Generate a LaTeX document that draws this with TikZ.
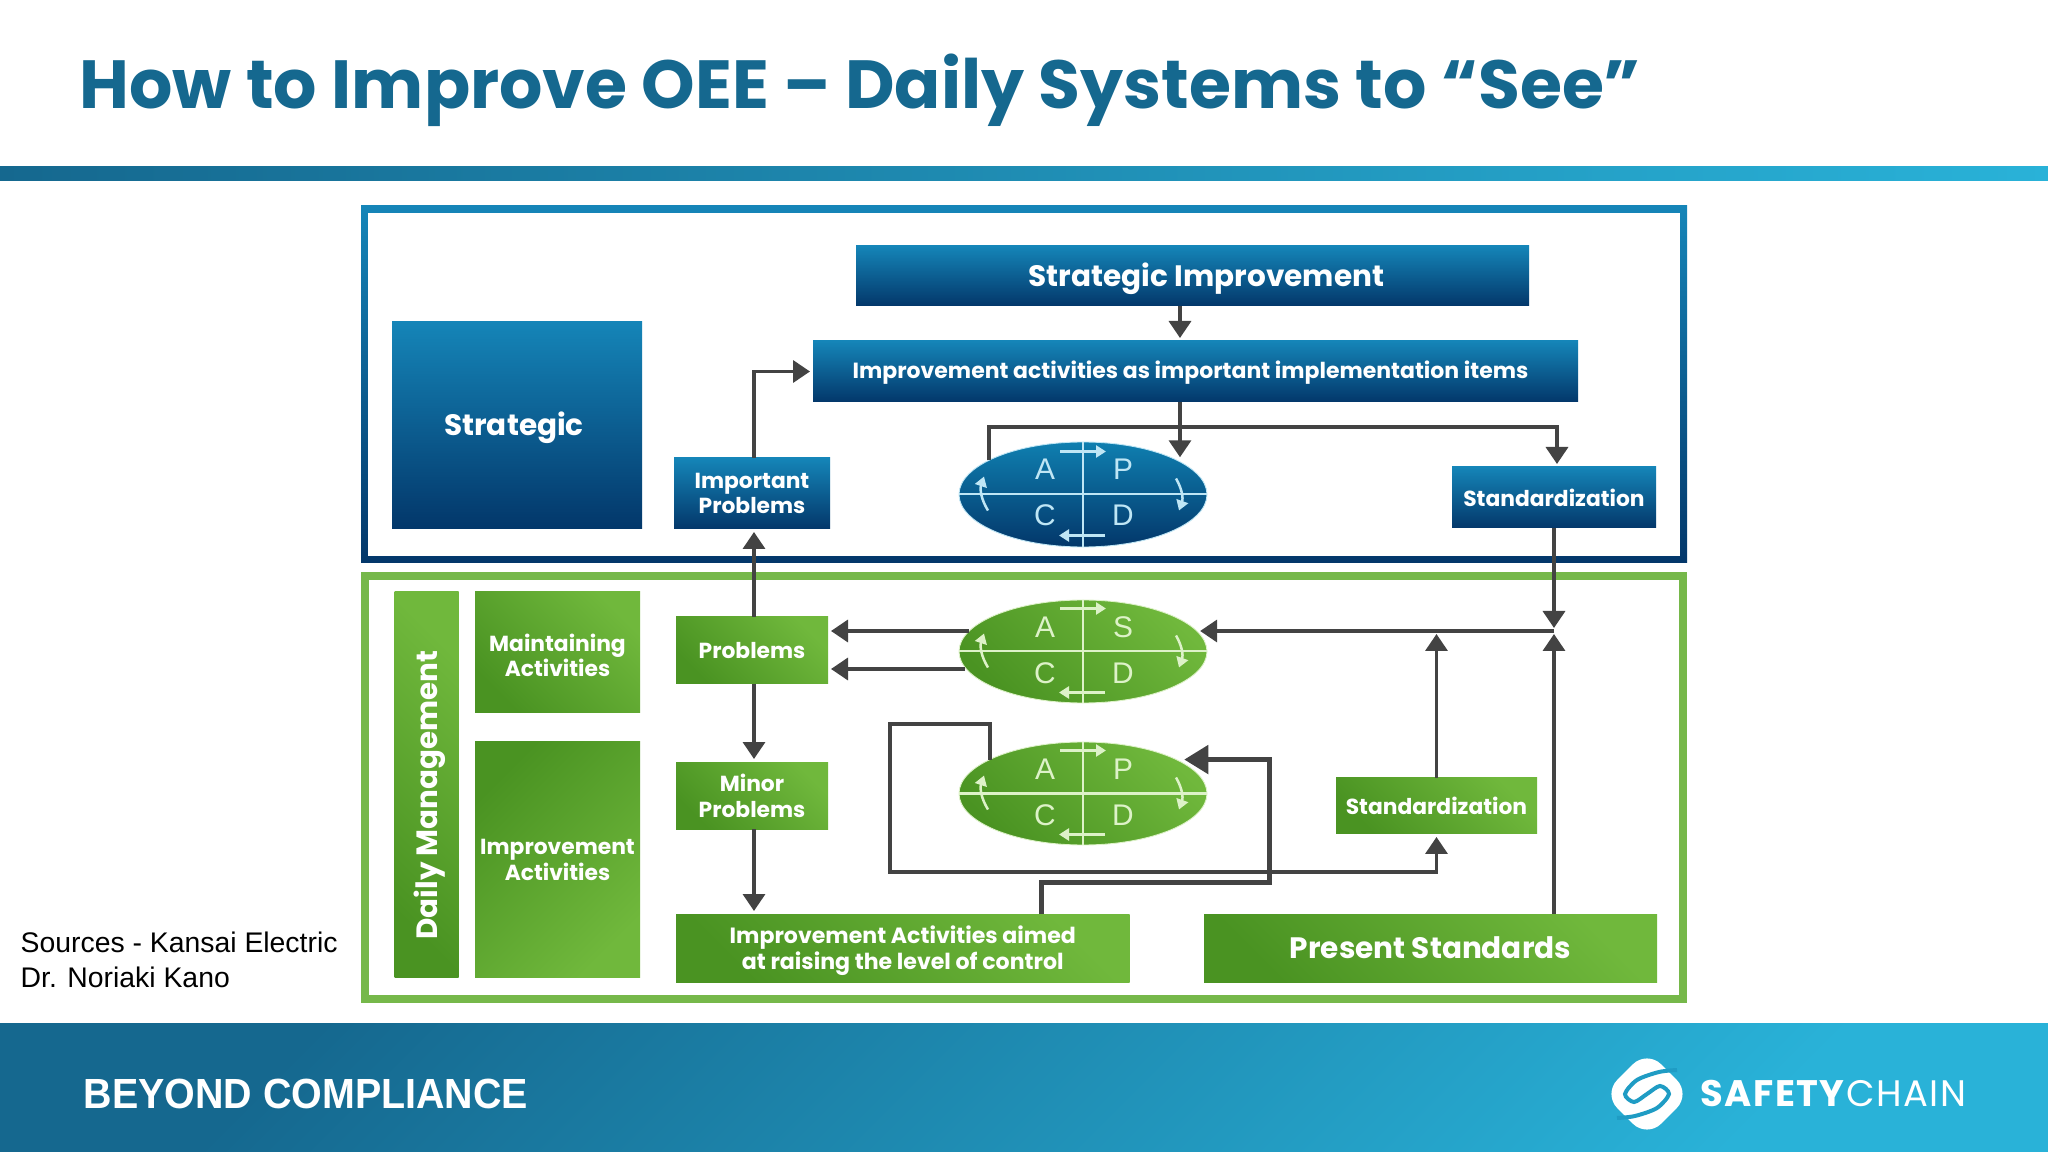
\documentclass[tikz,border=0pt]{standalone}
\usepackage{fontspec}
\setmainfont{Poppins}
\newfontfamily\arialfont{Liberation Sans}
\newfontfamily\mottofont{Liberation Sans}[FakeStretch=0.934]
\newfontfamily\brandfont{Poppins}[LetterSpace=4]
\usepackage{tikz}
\usetikzlibrary{shapes.geometric, arrows.meta}
\definecolor{titleblue}{HTML}{15688F}
\definecolor{wirecol}{HTML}{434343}
\definecolor{skyend}{HTML}{29B2D8}
\definecolor{logogap}{HTML}{1F9CC4}
\definecolor{blueA}{HTML}{1585B8}
\definecolor{blueB}{HTML}{03376A}
\definecolor{blueC}{HTML}{0F7FB0}
\definecolor{blueL}{HTML}{BFE6F5}
\definecolor{greenA}{HTML}{4A9322}
\definecolor{greenB}{HTML}{70B83C}
\definecolor{greenF}{HTML}{76B84A}
\definecolor{greenL}{HTML}{DDF2C8}
\newcommand{\sink}[2]{\raisebox{-#1}[\height][\depth]{#2}}
\newcommand{\twolines}[2]{\begin{tabular}{@{}c@{}}#1\\#2\end{tabular}}
\tikzstyle{bluebox} = [rectangle, inner sep=0pt, outer sep=0pt, top color=blueA, bottom color=blueB, text=white, align=center, font=\bfseries]
\tikzstyle{greenbox} = [rectangle, inner sep=0pt, outer sep=0pt, left color=greenA, right color=greenB, shading angle=135, text=white, align=center, font=\bfseries]
\tikzstyle{greenfall} = [greenbox, shading angle=45]
\tikzstyle{blueoval} = [ellipse, inner sep=0pt, outer sep=0pt, minimum width=2.48cm, minimum height=1.05cm, top color=blueC, bottom color=blueB, draw=blueL, line width=0.25pt]
\tikzstyle{greenoval} = [ellipse, inner sep=0pt, outer sep=0pt, minimum width=2.48cm, minimum height=1.03cm, left color=greenA, right color=greenB, shading angle=135, draw=greenL, line width=0.25pt]
\tikzstyle{blueletter} = [inner sep=0pt, text=blueL, font=\arialfont\fontsize{8.5}{8.5}\selectfont]
\tikzstyle{greenletter} = [inner sep=0pt, text=greenL, font=\arialfont\fontsize{8.5}{8.5}\selectfont]
\tikzstyle{wire} = [wirecol, line width=0.035cm, -{Triangle[length=0.17cm,width=0.22cm]}, shorten >=0.03cm]
\tikzstyle{heavywire} = [wirecol, line width=0.05cm, -{Triangle[length=0.24cm,width=0.28cm]}, shorten >=0.08cm]
\tikzstyle{bluecross} = [blueL, line width=0.02cm]
\tikzstyle{greencross} = [greenL, line width=0.02cm]
\tikzstyle{blueturn} = [blueL, line width=0.025cm, -{Triangle[length=0.1cm,width=0.12cm]}]
\tikzstyle{greenturn} = [greenL, line width=0.025cm, -{Triangle[length=0.1cm,width=0.12cm]}]
\begin{document}
\begin{tikzpicture}
	\useasboundingbox (0,0) rectangle (20.48,-11.52);

	\node (title) at (0.79,-1.09) [anchor=base west, inner sep=0pt, text=titleblue, font=\bfseries\fontsize{19.38}{19.4}\selectfont] {How to Improve OEE -- Daily Systems to “See”};
	\node (band) at (10.24,-1.74) [minimum width=20.48cm, minimum height=0.14cm, inner sep=0pt, left color=titleblue, right color=skyend] {};
	\node (footer) at (10.24,-10.875) [minimum width=20.48cm, minimum height=1.29cm, inner sep=0pt, top color=titleblue, bottom color=skyend, shading angle=45] {};
	\node (motto) at (0.83,-11.08) [anchor=base west, inner sep=0pt, text=white, font=\mottofont\bfseries\fontsize{12}{12}\selectfont] {BEYOND COMPLIANCE};
	\node (logomark) at (16.47,-10.94) [rectangle, rotate=45, minimum size=0.62cm, inner sep=0pt, fill=white, rounded corners=0.2cm] {};
	\draw [logogap, line width=0.04cm] plot [smooth] coordinates {(16.77,-10.70) (16.59,-10.72) (16.37,-10.80) (16.25,-10.94) (16.34,-11.02) (16.47,-10.94) (16.60,-10.86) (16.69,-10.94) (16.57,-11.08) (16.35,-11.16) (16.17,-11.18)};
	\node (brand) at (17.00,-11.06) [anchor=base west, inner sep=0pt, text=white, font=\brandfont\fontsize{10.5}{10.5}\selectfont] {\textbf{SAFETY}CHAIN};
	\node (sources) at (0.2,-9.6) [anchor=west, inner sep=0pt, align=left, font=\arialfont\fontsize{8.07}{10}\selectfont] {Sources - Kansai Electric\\Dr. Noriaki Kano};

	\node (stratframe) at (10.24,-3.845) [minimum width=13.26cm, minimum height=3.57cm, top color=blueA, bottom color=blueB] {};
	\node (stratinner) at (10.24,-3.845) [minimum width=13.12cm, minimum height=3.43cm, fill=white] {};
	\node (dailyframe) at (10.24,-7.875) [minimum width=13.18cm, minimum height=4.23cm, draw=greenF, line width=0.08cm, fill=white] {};

	\node (strategic) at (5.17,-4.25) [bluebox, minimum width=2.5cm, minimum height=2.07cm, font=\bfseries\fontsize{8.4}{9}\selectfont] {\sink{0.03cm}{Strategic}\hspace*{0.06cm}};
	\node (stratimp) at (11.925,-2.76) [bluebox, minimum width=6.73cm, minimum height=0.6cm, font=\bfseries\fontsize{8.4}{9}\selectfont] {\hspace*{0.28cm}\sink{0.03cm}{Strategic Improvement}};
	\node (improve) at (11.955,-3.715) [bluebox, minimum width=7.65cm, minimum height=0.61cm, font=\bfseries\fontsize{6.25}{7}\selectfont] {\sink{0.01cm}{Improvement activities as important implementation items}\hspace*{0.1cm}};
	\node (impprob) at (7.52,-4.935) [bluebox, minimum width=1.56cm, minimum height=0.71cm, font=\bfseries\fontsize{6.2}{7.2}\selectfont] {Important\\Problems};
	\node (stdblue) at (15.54,-4.975) [bluebox, minimum width=2.04cm, minimum height=0.61cm, font=\bfseries\fontsize{6.2}{7.4}\selectfont] {Standardization};

	\node (daily) at (4.265,-7.845) [greenfall, rotate=90, shading angle=135, minimum width=3.85cm, minimum height=0.64cm, font=\bfseries\fontsize{8.35}{9}\selectfont] {\sink{0.03cm}{Daily Management}\hspace*{0.21cm}};
	\node (maintain) at (5.575,-6.52) [greenbox, minimum width=1.65cm, minimum height=1.2cm, font=\bfseries\fontsize{6.2}{7.2}\selectfont] {\sink{0.07cm}{\twolines{Maintaining}{Activities}}};
	\node (impact) at (5.575,-8.595) [greenfall, minimum width=1.65cm, minimum height=2.35cm, font=\bfseries\fontsize{6.2}{7.4}\selectfont] {\sink{0.03cm}{\twolines{Improvement}{Activities}}};
	\node (probs) at (7.52,-6.505) [greenbox, minimum width=1.52cm, minimum height=0.67cm, font=\bfseries\fontsize{6.2}{7.4}\selectfont] {Problems};
	\node (minor) at (7.52,-7.955) [greenbox, minimum width=1.52cm, minimum height=0.67cm, font=\bfseries\fontsize{6.2}{7.4}\selectfont] {Minor\\Problems};
	\node (aimed) at (9.0275,-9.48) [greenbox, minimum width=4.535cm, minimum height=0.68cm, font=\bfseries\fontsize{6.28}{7.4}\selectfont] {\sink{0.03cm}{\twolines{Improvement Activities aimed}{at raising the level of control}}};
	\node (present) at (14.305,-9.48) [greenbox, minimum width=4.53cm, minimum height=0.68cm, font=\bfseries\fontsize{8.4}{9}\selectfont] {Present Standards};
	\node (stdgreen) at (14.365,-8.06) [greenbox, minimum width=2.01cm, minimum height=0.56cm, font=\bfseries\fontsize{6.2}{7.4}\selectfont] {Standardization};

	\node (bell) at (10.83,-4.945) [blueoval] {};
	\draw [bluecross] (bell.west)--(bell.east);
	\draw [bluecross] (bell.north)--(bell.south);
	\node (bellA) at (10.45,-4.69) [blueletter] {A};
	\node (bellP) at (11.23,-4.69) [blueletter] {P};
	\node (bellC) at (10.45,-5.15) [blueletter] {C};
	\node (bellD) at (11.23,-5.15) [blueletter] {D};
	\draw [blueturn] (bell.center) ++(-0.23,0.43) -- ++(0.46,0);
	\draw [blueturn] (bell.center) ++(0.22,-0.41) -- ++(-0.46,0);
	\draw [blueturn] (bell.center) ++(0.93,0.16) to[bend left=25] ++(0.03,-0.32);
	\draw [blueturn] (bell.center) ++(-0.95,-0.16) to[bend left=25] ++(-0.04,0.34);

	\node (gellA) at (10.83,-6.515) [greenoval] {};
	\draw [greencross] (gellA.west)--(gellA.east);
	\draw [greencross] (gellA.north)--(gellA.south);
	\node (gellAA) at (10.45,-6.27) [greenletter] {A};
	\node (gellAS) at (11.23,-6.27) [greenletter] {S};
	\node (gellAC) at (10.45,-6.73) [greenletter] {C};
	\node (gellAD) at (11.23,-6.73) [greenletter] {D};
	\draw [greenturn] (gellA.center) ++(-0.23,0.43) -- ++(0.46,0);
	\draw [greenturn] (gellA.center) ++(0.22,-0.41) -- ++(-0.46,0);
	\draw [greenturn] (gellA.center) ++(0.93,0.16) to[bend left=25] ++(0.03,-0.32);
	\draw [greenturn] (gellA.center) ++(-0.95,-0.16) to[bend left=25] ++(-0.04,0.34);

	\node (gellB) at (10.83,-7.935) [greenoval] {};
	\draw [greencross] (gellB.west)--(gellB.east);
	\draw [greencross] (gellB.north)--(gellB.south);
	\node (gellBA) at (10.45,-7.69) [greenletter] {A};
	\node (gellBP) at (11.23,-7.69) [greenletter] {P};
	\node (gellBC) at (10.45,-8.15) [greenletter] {C};
	\node (gellBD) at (11.23,-8.15) [greenletter] {D};
	\draw [greenturn] (gellB.center) ++(-0.23,0.43) -- ++(0.46,0);
	\draw [greenturn] (gellB.center) ++(0.22,-0.41) -- ++(-0.46,0);
	\draw [greenturn] (gellB.center) ++(0.93,0.16) to[bend left=25] ++(0.03,-0.32);
	\draw [greenturn] (gellB.center) ++(-0.95,-0.16) to[bend left=25] ++(-0.04,0.34);

	\coordinate (probline) at (7.54,-5.5);
	\coordinate (branch) at (11.8,-4.27);
	\coordinate (stdarm) at (15.57,-4.67);
	\coordinate (merge) at (15.54,-6.31);
	\coordinate (lower) at (9.65,-6.69);
	\coordinate (loopA) at (8.9,-7.24);
	\coordinate (loopB) at (8.9,-8.72);
	\coordinate (riseA) at (10.41,-8.82);
	\coordinate (riseB) at (12.69,-8.82);

	\draw [wire] (impprob.north -| probline) |- (improve.west);
	\draw [wire] (stratimp.south -| branch)--(improve.north -| branch);
	\draw [wire] (improve.south -| branch)--(bell.20 -| branch);
	\draw [wire] (bell.160) |- (branch) -| (stdarm);
	\draw [wire] (probs.north -| probline)--(impprob.south -| probline);
	\draw [wire] (stdblue.south)--(merge);
	\draw [wire] (present.north -| merge)--(merge);
	\draw [wire] (merge)--(gellA.10 |- merge);
	\draw [wire] (stdgreen.north)--(stdgreen.north |- merge);
	\draw [wire] (gellA.170 |- merge)--(probs.east |- merge);
	\draw [wire] (lower)--(probs.east |- lower);
	\draw [wire] (probs.south -| probline)--(minor.north -| probline);
	\draw [wire] (minor.south -| probline)--(aimed.north -| probline);
	\draw [wire] (gellB.160) |- (loopA)--(loopB) -| (stdgreen.south);
	\draw [heavywire] (aimed.north -| riseA)--(riseA)--(riseB) |- (gellB.20);
\end{tikzpicture}
\end{document}
